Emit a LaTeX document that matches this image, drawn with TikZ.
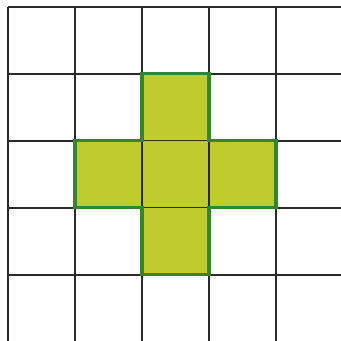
\documentclass[tikz,border=0pt]{standalone}
\usepackage{xcolor}
\definecolor{cGreen}{HTML}{BFCC2E}
\definecolor{cEdge} {HTML}{358530}
\definecolor{cLine} {HTML}{2A2A2A}
\usepackage{tikz}
\tikzset{
  gridline/.style = {draw=cLine, line width=0.7pt},
  plusfill/.style = {fill=cGreen},
  inner/.style    = {draw=cLine, line width=0.55pt},
  plusedge/.style = {draw=cEdge, line width=1.4pt, line join=miter},
}

\begin{document}
\begin{tikzpicture}

  \useasboundingbox[fill=white] (-0.12,0.02) rectangle (4.97,5.10);

  %% 5x5 grid
  \foreach \i in {0,...,5} {
    \draw[gridline] (\i,0) -- (\i,5);
    \draw[gridline] (0,\i) -- (5,\i);
  }

  %% Plus of five cells
  \fill[plusfill] (2,4) -- (3,4) -- (3,3) -- (4,3) -- (4,2) -- (3,2)
                  -- (3,1) -- (2,1) -- (2,2) -- (1,2) -- (1,3) -- (2,3) -- cycle;
  \draw[inner] (2,3) -- (3,3) (2,2) -- (3,2) (2,2) -- (2,3) (3,2) -- (3,3);
  \draw[plusedge] (2,4) -- (3,4) -- (3,3) -- (4,3) -- (4,2) -- (3,2)
                  -- (3,1) -- (2,1) -- (2,2) -- (1,2) -- (1,3) -- (2,3) -- cycle;

\end{tikzpicture}
\end{document}
